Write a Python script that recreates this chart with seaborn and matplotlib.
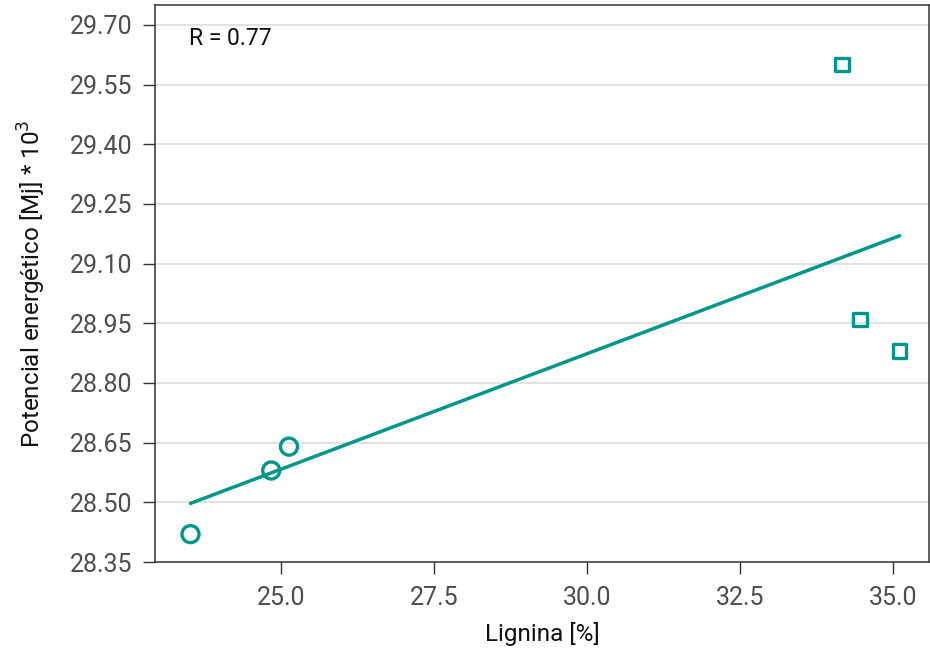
import matplotlib
matplotlib.use("Agg")
import matplotlib.pyplot as plt
import seaborn as sns
import pandas as pd
import numpy as np

lignina_circ = [23.52, 24.84, 25.13]
potencial_circ = [28.42, 28.58, 28.64]
lignina_sq = [34.17, 34.46, 35.11]
potencial_sq = [29.60, 28.96, 28.88]
yticks = [28.35, 28.50, 28.65, 28.80, 28.95, 29.10, 29.25, 29.40, 29.55, 29.70]
xticks = [25.0, 27.5, 30.0, 32.5, 35.0]
r_text = "R = 0.77"

teal = "#00968A"

sns.set_theme(style="white")
plt.rcParams['font.family'] = ['Roboto', 'DejaVu Sans']

df_c = pd.DataFrame({"x": lignina_circ, "y": potencial_circ})
df_s = pd.DataFrame({"x": lignina_sq, "y": potencial_sq})
df_all = pd.concat([df_c, df_s], ignore_index=True)

fig = plt.figure(figsize=(9.30, 6.51), dpi=100)
ax = fig.add_axes([155/930, 1-562/651, (929-155)/930, (562-5)/651])

for yv in yticks:
    ax.axhline(yv, color="#dddddd", lw=1.2, zorder=0)

sns.regplot(data=df_all, x="x", y="y", scatter=False, ci=None, ax=ax,
            line_kws=dict(color=teal, lw=2.5))
sns.scatterplot(data=df_c, x="x", y="y", marker="o", s=150, facecolor="none",
                edgecolor=teal, linewidth=2.4, ax=ax, zorder=3)
sns.scatterplot(data=df_s, x="x", y="y", marker="s", s=95, facecolor="none",
                edgecolor=teal, linewidth=2.4, ax=ax, zorder=3)

ax.set_xlim(22.94, 35.59)
ax.set_ylim(28.35, 29.75)
ax.set_xticks(xticks)
ax.set_xticklabels([f"{v:.1f}" for v in xticks])
ax.set_yticks(yticks)
ax.set_yticklabels([f"{v:.2f}" for v in yticks])
ax.tick_params(axis="both", which="both", direction="out", length=8.6, width=1,
               color="#333333", labelcolor="#4d4d4d", labelsize=18,
               left=True, bottom=True)
ax.tick_params(axis="x", pad=8.5)
ax.tick_params(axis="y", pad=7.5)
for sp in ax.spines.values():
    sp.set_color("#333333")
    sp.set_linewidth(1.1)

ax.set_xlabel("Lignina [%]", fontsize=17.5, color="#111111", labelpad=9)
ax.set_ylabel(r"Potencial energético [Mj] * 10$^3$", fontsize=17.5, color="#111111", labelpad=16)
ax.text(23.5, 29.667, r_text, fontsize=16.5, color="#111111", ha="left", va="center")

fig.savefig("out.png", dpi=100)
